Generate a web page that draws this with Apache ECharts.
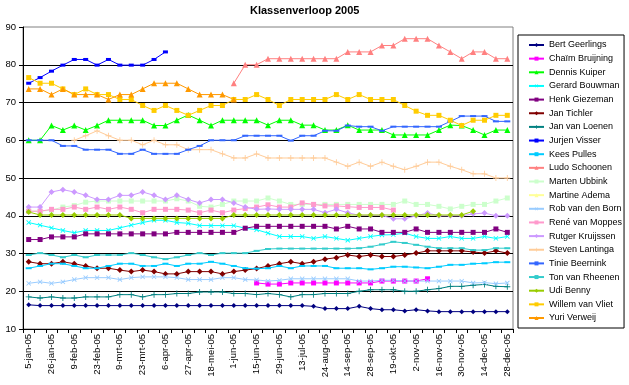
<!DOCTYPE html>
<html>
<head>
<meta charset="utf-8">
<script src="https://cdn.jsdelivr.net/npm/echarts@6/dist/echarts.min.js"></script>
<style>
html,body{margin:0;padding:0;background:#fff;}
#c{width:629px;height:385px;}
</style>
</head>
<body>
<div id="c"></div>
<script>
const dates = ['5-jan-05','19-jan-05','26-jan-05','2-feb-05','9-feb-05','16-feb-05','23-feb-05','2-mrt-05','9-mrt-05','16-mrt-05','23-mrt-05','30-mrt-05','6-apr-05','20-apr-05','27-apr-05','11-mei-05','18-mei-05','25-mei-05','1-jun-05','8-jun-05','15-jun-05','22-jun-05','29-jun-05','6-jul-05','13-jul-05','27-jul-05','24-aug-05','7-sep-05','14-sep-05','21-sep-05','28-sep-05','12-okt-05','19-okt-05','26-okt-05','2-nov-05','9-nov-05','16-nov-05','23-nov-05','30-nov-05','7-dec-05','14-dec-05','21-dec-05','28-dec-05'];

const bertGeerlings = [16.4,16.2,16.2,16.2,16.2,16.2,16.2,16.2,16.2,16.2,16.2,16.2,16.2,16.2,16.2,16.2,16.2,16.2,16.2,16.2,16.2,16.2,16.2,16.2,16.2,16.0,15.4,15.4,15.4,16.0,15.4,15.1,15.1,14.8,15.1,14.8,14.6,14.6,14.6,14.6,14.6,14.6,14.6];
const chaimBruijning = [null,null,null,null,null,null,null,null,null,null,null,null,null,null,null,null,null,null,null,null,22.2,21.9,21.9,22.2,22.2,22.2,22.2,22.2,22.2,22.2,22.2,22.7,22.7,22.7,22.7,23.3,null,null,null,null,null,null,null];
const dennisKuiper = [60,60,63.9,62.7,63.9,62.7,63.9,65.3,65.3,65.3,65.3,63.9,63.9,65.3,66.7,65.3,63.9,65.3,65.3,65.3,65.3,64.0,65.3,65.3,64.0,64.0,62.7,62.7,64.0,62.7,62.7,62.7,61.4,61.4,61.4,61.4,62.7,64.0,63.9,62.7,61.4,62.7,62.7];
const gerardBouwman = [38.2,37.5,36.8,36.1,35.5,36.1,36.1,36.1,36.8,37.5,38.2,38.8,38.8,38.2,38.0,37.4,37.4,37.4,37.4,36.7,36.3,35.4,34.5,34.5,34.5,34.0,34.5,34.0,33.5,34.0,34.5,34.9,35.0,35.4,34.5,34.0,34.0,34.5,34.0,34.0,34.5,34.0,34.5];
const henkGiezeman = [33.7,33.7,34.4,34.4,34.4,35.2,35.2,35.2,35.2,35.2,35.2,35.2,35.2,35.6,35.6,35.6,35.6,35.6,35.6,36.7,37.2,37.2,37.2,37.2,37.2,37.2,37.2,36.5,37.2,36.5,36.5,35.6,35.6,35.6,36.5,35.6,35.6,35.6,35.6,35.6,35.6,36.5,35.6];
const janTichler = [27.8,27.3,27.3,27.8,27.3,26.7,26.1,26.1,25.6,25.2,25.6,25.2,24.6,24.6,25.2,25.2,25.2,24.6,25.2,25.6,26.0,26.7,27.3,27.8,27.3,27.8,28.5,28.9,29.6,29.2,29.6,29.2,29.2,29.6,30.1,30.7,30.7,30.7,30.7,30.4,30.1,30.7,30.1];
const janVanLoenen = [18.5,18.2,18.5,18.2,18.2,18.5,18.5,18.5,19.1,19.1,18.5,19.1,19.1,19.4,19.4,19.8,19.8,19.8,19.4,19.4,19.1,19.4,19.1,18.5,19.1,19.1,19.4,19.4,19.4,20.0,20.4,20.4,20.4,20.0,20.0,20.4,20.7,21.3,21.3,21.6,21.8,21.3,21.2];
const jurjenVisser = [75.1,76.6,78.3,79.9,81.4,81.4,79.9,81.4,79.9,79.9,79.9,81.4,83.4,null,null,null,null,null,null,null,null,null,null,null,null,null,null,null,null,null,null,null,null,null,null,null,null,null,null,null,null,null,null];
const keesPulles = [26.1,26.7,27.3,27.3,26.7,26.1,26.1,26.7,27.3,27.3,26.7,26.7,27.3,26.7,27.3,27.3,27.8,27.3,26.7,26.1,26.0,26.1,26.7,26.1,26.7,26.7,26.7,26.1,26.1,26.1,25.8,26.1,26.5,26.5,26.3,26.1,26.5,27.0,27.0,27.3,27.4,27.7,27.7];
const ludoSchoonen = [null,null,null,null,null,null,null,null,null,null,null,null,null,null,null,null,null,null,75.1,80,80,81.6,81.6,81.6,81.6,81.6,81.6,81.6,83.4,83.4,83.4,85.1,85.1,86.9,86.9,86.9,85.1,83.4,81.6,83.4,83.4,81.6,81.6];
const martenUbbink = [41.2,41.2,41.5,42.3,42.7,43.6,43.9,43.9,43.9,43.9,43.9,43.9,43.9,44.5,43.9,42.5,42.3,43.0,43.9,43.9,43.9,44.7,43.9,43.0,43.0,43.0,43.0,43.0,43.0,43.0,43.0,43.0,43.0,43.9,43.0,43.0,42.5,41.8,42.5,43.0,43.0,43.9,44.7];
const martineAdema = [];
const robVanDenBorn = [22.1,22.5,22.1,22.5,23.1,23.6,23.6,23.6,23.1,23.6,23.8,23.8,23.8,23.6,23.1,23.1,23.1,23.6,23.6,23.1,23.0,22.7,22.9,23.3,23.3,23.3,23.3,23.3,23.3,22.7,22.7,22.9,22.9,22.7,22.7,22.7,22.7,22.7,22.7,22.2,22.3,22.0,22.2];
const reneVanMoppes = [41.2,41.2,41.7,41.7,42.3,41.7,42.3,41.7,42.3,41.7,40.8,41.7,41.7,41.7,41.5,40.8,41.5,40.8,41.5,41.9,42.3,42.9,42.3,42.3,43.4,43.0,42.6,42.6,42.4,42.2,42.2,42.2,41.5,null,null,null,null,null,null,null,null,null,null];
const rutgerKruijssen = [42.3,42.3,46.3,46.9,46.3,45.4,44.3,44.3,45.4,45.4,46.3,45.4,44.3,45.4,44.3,43.4,44.3,44.3,43.4,42.3,41.7,41.8,41.7,41.7,41.7,41.7,40.8,41.7,40.8,40.1,40.1,40.1,39.2,39.2,40.0,40.7,40.0,40.0,40.0,40.5,40.7,40.0,40.0];
const stevenLantinga = [null,null,null,null,60,61.2,62.5,61.2,60,60,58.8,60,58.8,58.8,57.5,57.5,57.5,56.4,55.3,55.3,56.4,55.3,55.3,55.3,55.3,55.3,55.3,54.2,53.1,54.2,53.1,54.2,53.1,52.2,53.1,54.2,54.2,53.1,52.2,51.1,51.1,50,50];
const tinieBeernink = [60,60,60,58.5,58.5,57.5,57.5,57.5,56.4,56.4,57.5,56.4,56.4,56.4,57.5,58.5,60,60,60,61.2,61.2,61.2,61.2,59.9,61.2,61.2,62.5,62.5,63.9,63.6,63.6,62.5,63.6,63.6,63.6,63.6,63.6,65.0,66.4,66.4,66.4,65.0,65.0];
const tonVanRheenen = [29.6,30.1,29.6,29.0,29.6,29.0,29.6,29.6,29.6,30.1,29.6,29.0,28.5,29.0,29.6,30.1,29.6,30.1,30.1,30.1,30.7,31.2,31.3,31.3,31.3,31.3,31.3,31.3,31.3,31.4,31.8,32.4,33.1,32.8,32.3,31.8,31.4,31.4,31.4,30.9,30.9,31.4,31.4];
const udiBenny = [41.0,40.2,40.2,40.2,40.2,40.2,40.2,40.2,40.2,39.3,39.3,39.3,39.3,39.3,39.3,39.3,39.3,39.3,40.2,40.2,40.2,40.2,40.2,40.2,40.2,40.2,40.2,40.2,40.2,40.2,40.2,40.2,40.2,40.2,40.2,40.2,40.2,40.2,40.2,41.2,null,null,null];
const willemVanVliet = [76.6,75.1,75.1,73.6,72.1,73.6,72.1,72.1,70.8,70.8,69.2,67.9,69.2,67.9,66.6,67.9,69.2,69.2,70.8,70.8,72.1,70.8,69.2,70.8,70.8,70.8,70.8,72.1,70.8,72.1,70.8,70.8,70.8,69.2,67.7,66.6,66.6,65.3,63.9,65.3,65.3,66.6,66.6];
const yuriVerweij = [73.6,73.6,72.1,73.6,72.1,72.1,72.1,70.8,72.1,72.1,73.6,75.1,75.1,75.1,73.6,72.1,72.1,72.1,70.8,null,null,null,null,null,null,null,null,null,null,null,null,null,null,null,null,null,null,null,null,null,null,null,null];

const names = ['Bert Geerlings','Chaïm Bruijning','Dennis Kuiper','Gerard Bouwman','Henk Giezeman','Jan Tichler','Jan van Loenen','Jurjen Visser','Kees Pulles','Ludo Schoonen','Marten Ubbink','Martine Adema','Rob van den Born','René van Moppes','Rutger Kruijssen','Steven Lantinga','Tinie Beernink','Ton van Rheenen','Udi Benny','Willem van Vliet','Yuri Verweij'];
const values = [bertGeerlings,chaimBruijning,dennisKuiper,gerardBouwman,henkGiezeman,janTichler,janVanLoenen,jurjenVisser,keesPulles,ludoSchoonen,martenUbbink,martineAdema,robVanDenBorn,reneVanMoppes,rutgerKruijssen,stevenLantinga,tinieBeernink,tonVanRheenen,udiBenny,willemVanVliet,yuriVerweij];

const PLUS = 'path://M3,0H4V3H7V4H4V7H3V4H0V3H3Z';
const styles = [
  {c:'#000080', s:'diamond', z:5},
  {c:'#FF00FF', s:'rect', z:5},
  {c:'#00FF00', s:'triangle', z:6},
  {c:'#00FFFF', s:PLUS, z:6, r:45},
  {c:'#800080', s:'rect', z:5},
  {c:'#800000', s:'diamond', z:6},
  {c:'#008080', s:PLUS, z:6},
  {c:'#0000FF', s:'rect', z:[5,3]},
  {c:'#00CCFF', s:'rect', z:[6,2]},
  {c:'#FF8080', s:'triangle', z:6},
  {c:'#CCFFCC', s:'rect', z:5},
  {c:'#FFFF99', s:'triangle', z:6},
  {c:'#99CCFF', s:PLUS, z:6, r:45},
  {c:'#FF99CC', s:'rect', z:5},
  {c:'#CC99FF', s:'diamond', z:6},
  {c:'#FFCC99', s:PLUS, z:6},
  {c:'#3366FF', s:'rect', z:[6,2]},
  {c:'#33CCCC', s:'rect', z:[6,2]},
  {c:'#99CC00', s:'diamond', z:6},
  {c:'#FFCC00', s:'rect', z:5},
  {c:'#FF9900', s:'triangle', z:6}
];

const FONT = '"Liberation Sans", Arial, sans-serif';

const series = names.map((n, i) => ({
  name: n,
  type: 'line',
  data: values[i],
  symbol: styles[i].s,
  symbolSize: styles[i].z,
  symbolRotate: styles[i].r || 0,
  showSymbol: true,
  showAllSymbol: true,
  connectNulls: false,
  lineStyle: {color: styles[i].c, width: 1},
  itemStyle: {color: styles[i].c, borderWidth: 0},
  emphasis: {disabled: true},
  animation: false
}));

const chart = echarts.init(document.getElementById('c'), null, {renderer: 'canvas'});
chart.setOption({
  animation: false,
  backgroundColor: '#fff',
  textStyle: {fontFamily: FONT},
  title: {
    text: 'Klassenverloop 2005',
    left: 250, top: 5, padding: 0,
    textStyle: {fontSize: 11, fontWeight: 'bold', color: '#000', fontFamily: FONT}
  },
  grid: {
    left: 23, right: 116, top: 27, bottom: 56,
    show: true, borderColor: '#808080', borderWidth: 1, backgroundColor: '#fff'
  },
  legend: {
    orient: 'vertical',
    left: 518, top: 35,
    padding: [4, 2, 4, 10],
    itemWidth: 15, itemHeight: 5, itemGap: 1.65,
    borderColor: '#000', borderWidth: 1, backgroundColor: '#fff',
    textStyle: {fontSize: 9, lineHeight: 12, color: '#000', fontFamily: FONT},
    data: names
  },
  xAxis: {
    type: 'category',
    data: dates,
    boundaryGap: true,
    axisLine: {lineStyle: {color: '#000', width: 1}},
    axisTick: {show: true, interval: 0, length: 4, lineStyle: {color: '#000'}},
    axisLabel: {interval: 1, rotate: 90, fontSize: 9.5, margin: 5, color: '#000', fontFamily: FONT},
    splitLine: {show: false}
  },
  yAxis: {
    type: 'value',
    min: 10, max: 90, interval: 10,
    axisLine: {show: true, lineStyle: {color: '#000', width: 1}},
    axisTick: {show: true, length: 4, lineStyle: {color: '#000'}},
    axisLabel: {fontSize: 9.5, margin: 7, color: '#000', fontFamily: FONT},
    splitLine: {show: true, showMaxLine: false, lineStyle: {color: '#000', width: 1}}
  },
  series: series
});
</script>
</body>
</html>
